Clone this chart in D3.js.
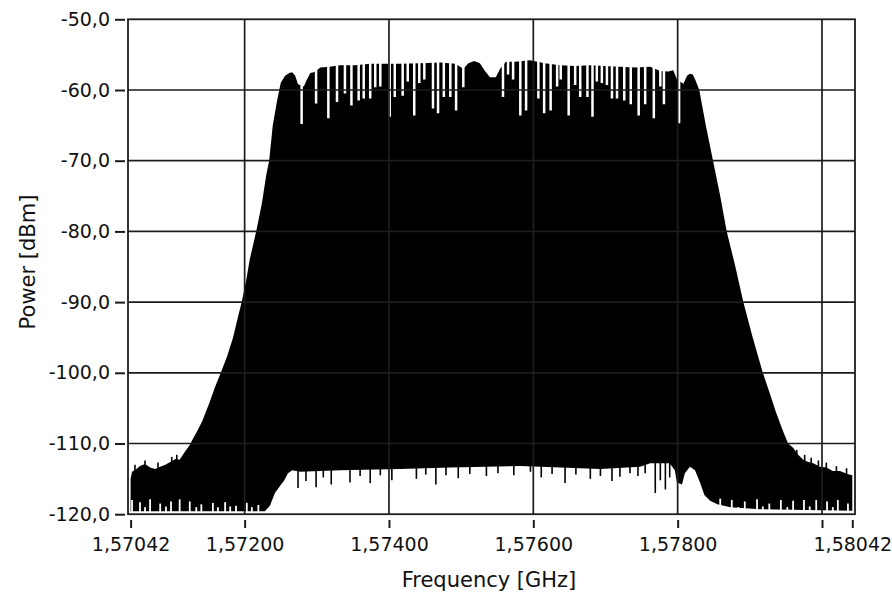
<!DOCTYPE html>
<html>
<head>
<meta charset="utf-8">
<script src="https://cdn.jsdelivr.net/npm/d3@7.9.0/dist/d3.min.js"></script>
<style>
  body { margin: 0; background: #fff; }
  svg { display: block; font-family: "DejaVu Sans", sans-serif; }
</style>
</head>
<body>
<svg id="chart" width="892" height="593"></svg>
<script>
// upper envelope of the trace (GHz, dBm)
const topFreq = [1.57042,1.57044,1.57050,1.57055,1.57062,1.57069,1.57076,1.57083,1.57090,1.57097,
  1.57104,1.57110,1.57117,1.57124,1.57128,1.57134,1.57141,1.57151,1.57159,1.57167,
  1.57176,1.57184,1.57191,1.57196,1.57202,1.57207,1.57216,1.57224,1.57230,1.57234,
  1.57239,1.57245,1.57250,1.57256,1.57262,1.57266,1.57270,1.57274,1.57282,1.57286,
  1.57291,1.57296,1.57305,1.57318,1.57332,1.57353,1.57374,1.57395,1.57415,1.57443,
  1.57471,1.57492,1.57503,1.57510,1.57518,1.57526,1.57533,1.57540,1.57548,1.57554,
  1.57562,1.57575,1.57595,1.57616,1.57637,1.57658,1.57679,1.57699,1.57720,1.57741,
  1.57762,1.57776,1.57787,1.57794,1.57799,1.57808,1.57813,1.57817,1.57821,1.57825,
  1.57830,1.57839,1.57849,1.57859,1.57868,1.57880,1.57891,1.57904,1.57918,1.57928,
  1.57936,1.57945,1.57953,1.57960,1.57967,1.57974,1.57981,1.57988,1.57997,1.58006,
  1.58015,1.58025,1.58035,1.58042];
const topDbm = [-115.0,-114.0,-113.6,-113.2,-112.9,-113.4,-113.6,-113.3,-113.0,-112.6,
  -112.2,-112.3,-111.2,-110.2,-109.4,-108.3,-106.9,-104.3,-102.0,-100.0,
  -97.6,-95.0,-92.0,-90.0,-87.0,-84.0,-80.0,-76.0,-72.0,-70.0,
  -65.0,-61.5,-59.0,-58.0,-57.6,-57.5,-58.0,-59.2,-59.5,-58.6,
  -57.6,-57.5,-56.8,-56.7,-56.5,-56.5,-56.3,-56.3,-56.3,-56.2,
  -56.1,-56.3,-57.0,-56.2,-55.9,-56.2,-57.3,-58.2,-58.2,-57.0,
  -56.0,-56.0,-55.8,-56.2,-56.5,-56.6,-56.5,-56.6,-56.7,-56.8,
  -56.7,-57.3,-57.4,-57.2,-58.5,-59.1,-58.0,-57.7,-57.8,-58.7,
  -60.0,-65.0,-70.0,-75.0,-80.0,-85.0,-90.0,-95.0,-100.0,-103.0,
  -105.5,-108.0,-110.0,-110.6,-111.6,-112.3,-112.6,-112.8,-113.3,-113.4,
  -113.9,-113.9,-114.3,-114.5];

// lower envelope of the trace
const bottomFreq = [1.57042,1.57228,1.57235,1.57242,1.57249,1.57255,1.57260,1.57266,1.57277,1.57332,
  1.57415,1.57485,1.57582,1.57693,1.57748,1.57762,1.57789,1.57796,1.57799,1.57806,
  1.57810,1.57817,1.57824,1.57831,1.57837,1.57845,1.57855,1.57873,1.57914,1.58042];
const bottomDbm = [-119.6,-119.6,-118.8,-117.0,-116.0,-115.2,-114.2,-113.8,-114.0,-113.8,
  -113.6,-113.4,-113.2,-113.6,-113.3,-112.8,-112.8,-113.8,-115.5,-115.8,
  -114.2,-113.3,-113.8,-115.5,-117.3,-118.1,-118.6,-119.0,-119.3,-119.5];

// narrow dips of the comb at the top of the band
const notchFreq = [1.57279,1.57299,1.57316,1.57328,1.57339,1.57348,1.57358,1.57365,1.57374,1.57381,
  1.57388,1.57401,1.57408,1.57419,1.57426,1.57435,1.57442,1.57449,1.57461,1.57468,
  1.57476,1.57485,1.57493,1.57503,1.57558,1.57565,1.57572,1.57582,1.57590,1.57607,
  1.57615,1.57624,1.57633,1.57638,1.57649,1.57658,1.57665,1.57675,1.57682,1.57688,
  1.57695,1.57702,1.57709,1.57716,1.57726,1.57735,1.57746,1.57755,1.57767,1.57776,
  1.57781,1.57802];
const notchDbm = [-64.8,-61.9,-64.0,-61.7,-60.5,-62.2,-61.5,-61.2,-61.2,-59.6,
  -59.5,-63.8,-61.0,-60.8,-58.8,-63.6,-59.0,-58.5,-62.6,-63.3,
  -61.0,-61.0,-62.9,-59.6,-61.0,-57.8,-58.5,-63.6,-62.9,-61.2,
  -63.3,-62.9,-59.5,-58.5,-63.6,-59.3,-61.0,-61.0,-63.8,-58.8,
  -59.0,-59.3,-61.2,-61.2,-61.5,-62.0,-63.6,-62.0,-64.0,-59.5,
  -62.0,-64.7];

// short upward gaps in the noise floor at both ends
const gapFreq = [1.57044,1.57055,1.57062,1.57069,1.57083,1.57091,1.57098,1.57110,1.57124,1.57133,
  1.57140,1.57156,1.57163,1.57173,1.57180,1.57188,1.57203,1.57210,1.57219,
  1.57859,1.57875,1.57884,1.57893,1.57910,1.57918,1.57927,1.57943,1.57952,1.57960,
  1.57975,1.57983,1.57992,1.58007,1.58015,1.58022,1.58036];
const gapDbm = [-118.0,-118.3,-119.0,-117.9,-118.5,-118.9,-118.2,-117.9,-118.2,-119.0,
  -118.6,-118.4,-119.0,-118.3,-118.9,-118.8,-118.4,-119.0,-118.7,
  -117.8,-118.0,-119.0,-118.2,-117.9,-118.9,-118.5,-118.0,-119.0,-118.1,
  -118.0,-118.9,-118.0,-118.2,-119.0,-118.0,-118.5];

// downward minima below the band
const dropFreq = [1.57274,1.57285,1.57299,1.57309,1.57320,1.57346,1.57360,1.57374,1.57388,1.57404,
  1.57438,1.57451,1.57465,1.57479,1.57496,1.57512,1.57535,1.57551,1.57573,1.57596,
  1.57611,1.57626,1.57644,1.57659,1.57679,1.57693,1.57709,1.57720,1.57734,1.57745,
  1.57755,1.57769,1.57776,1.57783,1.57789];
const dropDbm = [-116.3,-115.3,-116.2,-114.8,-115.8,-115.5,-114.6,-115.6,-114.5,-115.2,
  -115.0,-114.4,-115.8,-114.5,-114.9,-114.3,-114.6,-114.2,-114.5,-114.0,
  -114.8,-114.3,-115.6,-114.4,-115.0,-114.6,-115.3,-114.7,-114.2,-114.6,
  -114.2,-117.0,-115.2,-116.5,-114.8];

// upward maxima in the noise floor at both ends
const peakFreq = [1.57048,1.57062,1.57080,1.57099,1.57106,
  1.57965,1.57976,1.57985,1.57995,1.58006,1.58020,1.58034];
const peakDbm = [-113.0,-112.4,-112.7,-111.9,-111.6,
  -110.9,-111.6,-112.0,-112.4,-112.7,-113.2,-113.5];

const xTicks = [1.57042, 1.572, 1.574, 1.576, 1.578, 1.580, 1.58042];
const xTickLabels = ['1,57042', '1,57200', '1,57400', '1,57600', '1,57800', '', '1,58042'];
const xGrid = [1.572, 1.574, 1.576, 1.578, 1.580];
const yTicks = [-50, -60, -70, -80, -90, -100, -110, -120];
const yGrid = [-60, -70, -80, -90, -100, -110];

const ink = '#1c1c1c';
const svg = d3.select('#chart');

const x = d3.scaleLinear().domain([1.57042, 1.58042]).range([130.6, 852.3]);
const y = d3.scaleLinear().domain([-120, -50]).range([514.2, 19.3]);

svg.append('defs').append('clipPath').attr('id', 'plot-clip')
  .append('rect')
  .attr('x', 128).attr('y', 19.3)
  .attr('width', 727).attr('height', 514.2 - 19.3);

const plot = svg.append('g').attr('clip-path', 'url(#plot-clip)');

// filled band between the two envelopes
const outline = topFreq.map((f, i) => [x(f), y(topDbm[i])])
  .concat(bottomFreq.map((f, i) => [x(f), y(bottomDbm[i])]).reverse());

plot.append('path')
  .attr('d', d3.line()(outline) + 'Z')
  .attr('fill', '#000');

// vertical spikes: [freq, dbm, from, colour, width]
function spikes(cls, freqs, dbms, from, colour, width) {
  plot.selectAll('line.' + cls)
    .data(freqs)
    .join('line')
    .attr('class', cls)
    .attr('x1', d => x(d)).attr('x2', d => x(d))
    .attr('y1', y(from)).attr('y2', (d, i) => y(dbms[i]))
    .attr('stroke', colour)
    .attr('stroke-width', width);
}

spikes('peak', peakFreq, peakDbm, -116, '#000', 1.6);
spikes('drop', dropFreq, dropDbm, -110, '#000', 1.6);
spikes('notch', notchFreq, notchDbm, -50, '#fff', 2.5);
spikes('gap', gapFreq, gapDbm, -121, '#fff', 1.8);

// grid on top so it shows through the notches
plot.selectAll('line.vgrid')
  .data(xGrid)
  .join('line')
  .attr('class', 'vgrid')
  .attr('x1', d => x(d)).attr('x2', d => x(d))
  .attr('y1', y(-50)).attr('y2', y(-120))
  .attr('stroke', ink).attr('stroke-width', 1.7);

plot.selectAll('line.hgrid')
  .data(yGrid)
  .join('line')
  .attr('class', 'hgrid')
  .attr('x1', 128).attr('x2', 855)
  .attr('y1', d => y(d)).attr('y2', d => y(d))
  .attr('stroke', ink).attr('stroke-width', 1.7);

// frame
svg.append('rect')
  .attr('x', 128).attr('y', y(-50))
  .attr('width', 855 - 128).attr('height', y(-120) - y(-50))
  .attr('fill', 'none')
  .attr('stroke', ink).attr('stroke-width', 1.8);

// y axis
const yAxis = svg.append('g')
  .attr('transform', 'translate(125,0)')
  .call(d3.axisLeft(y).tickValues(yTicks).tickSize(10).tickPadding(5)
    .tickFormat(d => d.toFixed(1).replace('.', ',')));
yAxis.select('.domain').remove();
yAxis.selectAll('line').attr('stroke', ink).attr('stroke-width', 2);
yAxis.selectAll('text')
  .attr('fill', '#111')
  .style('font-size', '19px')
  .style('font-family', '"DejaVu Sans", sans-serif');

// x axis
const xAxis = svg.append('g')
  .attr('transform', 'translate(0,520)')
  .call(d3.axisBottom(x).tickValues(xTicks).tickSize(8).tickPadding(10)
    .tickFormat((d, i) => xTickLabels[i]));
xAxis.select('.domain').remove();
xAxis.selectAll('line').attr('stroke', ink).attr('stroke-width', 2);
xAxis.selectAll('text')
  .attr('fill', '#111')
  .style('font-size', '19px')
  .style('font-family', '"DejaVu Sans", sans-serif');

// titles
svg.append('text')
  .attr('x', 489).attr('y', 587)
  .attr('text-anchor', 'middle')
  .attr('fill', '#111')
  .style('font-size', '21px')
  .text('Frequency [GHz]');

svg.append('text')
  .attr('transform', 'translate(35,262) rotate(-90)')
  .attr('text-anchor', 'middle')
  .attr('fill', '#111')
  .style('font-size', '21px')
  .text('Power [dBm]');
</script>
</body>
</html>
